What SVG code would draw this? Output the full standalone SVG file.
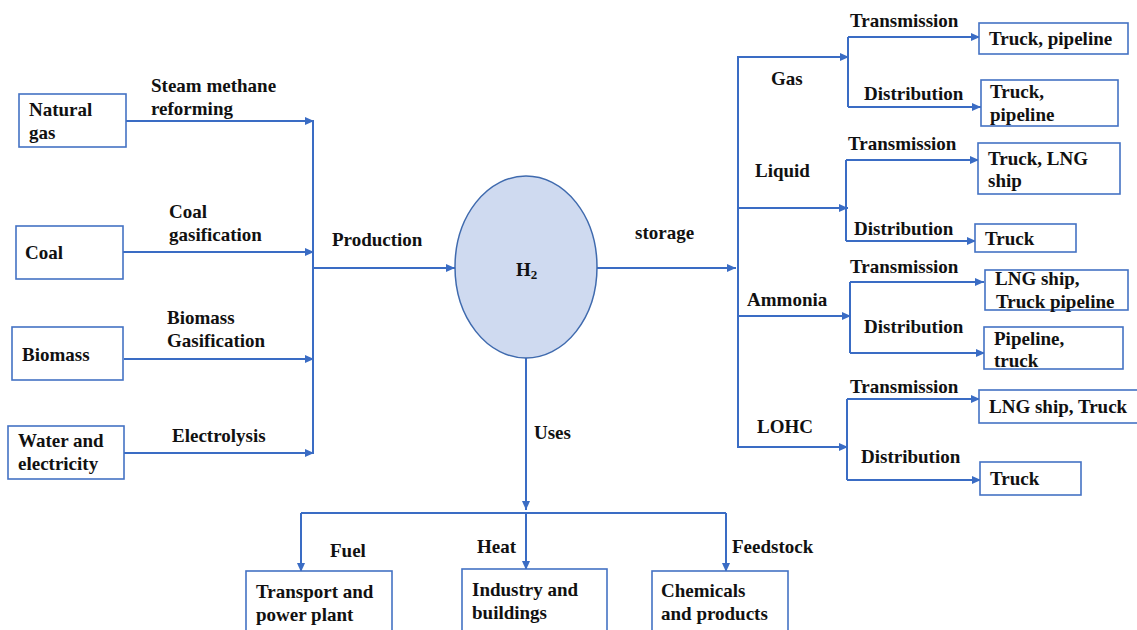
<svg xmlns="http://www.w3.org/2000/svg" width="1137" height="630" viewBox="0 0 1137 630">
<style>
.bx{fill:#fff;stroke:#4472C4;stroke-width:1.6}
.ln{fill:none;stroke:#3A6CC4;stroke-width:2}
.ar{marker-end:url(#ah)}
text{font-family:"Liberation Serif","Times New Roman",serif;font-weight:bold;font-size:19px;fill:#111}
</style>
<defs>
<marker id="ah" markerUnits="userSpaceOnUse" markerWidth="10" markerHeight="8" refX="9" refY="4" orient="auto">
<path d="M0,0 L9,4 L0,8 z" fill="#3A6CC4"/>
</marker>
</defs>
<rect width="1137" height="630" fill="#fff"/>

<g id="connectors">
<!-- production inputs -->
<path class="ln ar" d="M126,121 H314"/>
<path class="ln ar" d="M123,252 H314"/>
<path class="ln ar" d="M124,359 H314"/>
<path class="ln ar" d="M124,453 H314"/>
<path class="ln" d="M313,120 V454"/>
<path class="ln ar" d="M313,268 H455"/>
<!-- storage -->
<path class="ln ar" d="M597,268 H736"/>
<path class="ln" d="M738,56 V448"/>
<path class="ln ar" d="M737,57 H849"/>
<path class="ln" d="M848,37 V107"/>
<path class="ln ar" d="M848,37 H980"/>
<path class="ln ar" d="M848,107 H981"/>
<path class="ln ar" d="M737,208 H848"/>
<path class="ln" d="M846,160 V241"/>
<path class="ln ar" d="M846,160 H979"/>
<path class="ln ar" d="M846,241 H976"/>
<path class="ln ar" d="M737,316 H851"/>
<path class="ln" d="M850,282 V353"/>
<path class="ln ar" d="M850,282 H984"/>
<path class="ln ar" d="M850,353 H985"/>
<path class="ln ar" d="M737,447 H848"/>
<path class="ln" d="M847,399 V480"/>
<path class="ln ar" d="M847,399 H980"/>
<path class="ln ar" d="M847,480 H981"/>
<!-- uses -->
<path class="ln ar" d="M526,358 V510"/>
<path class="ln" d="M301,513 H726"/>
<path class="ln ar" d="M301,513 V572"/>
<path class="ln ar" d="M526,513 V570"/>
<path class="ln ar" d="M726,513 V572"/>
</g>

<g id="labels">
<text x="151" y="92">Steam methane</text>
<text x="151" y="115">reforming</text>
<text x="169" y="218">Coal</text>
<text x="169" y="241">gasification</text>
<text x="167" y="324">Biomass</text>
<text x="167" y="347">Gasification</text>
<text x="172" y="442">Electrolysis</text>
<text x="332" y="246">Production</text>
<text x="635" y="239">storage</text>
<text x="534" y="439">Uses</text>
<text x="771" y="85">Gas</text>
<text x="755" y="177">Liquid</text>
<text x="747" y="306">Ammonia</text>
<text x="757" y="433">LOHC</text>
<text x="850" y="27">Transmission</text>
<text x="864" y="100">Distribution</text>
<text x="848" y="150">Transmission</text>
<text x="854" y="235">Distribution</text>
<text x="850" y="273">Transmission</text>
<text x="864" y="333">Distribution</text>
<text x="850" y="393">Transmission</text>
<text x="861" y="463">Distribution</text>
<text x="330" y="557">Fuel</text>
<text x="477" y="553">Heat</text>
<text x="732" y="553">Feedstock</text>
</g>

<g id="n-natural-gas">
<rect class="bx" x="19" y="94" width="107" height="53"/>
<text x="29" y="116">Natural</text>
<text x="29" y="139">gas</text>
</g>
<g id="n-coal">
<rect class="bx" x="16" y="226" width="107" height="53"/>
<text x="25" y="259">Coal</text>
</g>
<g id="n-biomass">
<rect class="bx" x="12" y="327" width="111" height="53"/>
<text x="22" y="361">Biomass</text>
</g>
<g id="n-water">
<rect class="bx" x="8" y="426" width="116" height="53"/>
<text x="18" y="447">Water and</text>
<text x="18" y="470">electricity</text>
</g>

<g id="n-h2">
<ellipse cx="526" cy="267" rx="71" ry="91" fill="#CFDAF0" stroke="#3F6AAE" stroke-width="1.5"/>
<text x="516" y="276">H<tspan font-size="13" dy="3">2</tspan></text>
</g>

<g id="n-gas-trans">
<rect class="bx" x="979" y="23" width="149" height="31"/>
<text x="989" y="45">Truck, pipeline</text>
</g>
<g id="n-gas-dist">
<rect class="bx" x="981" y="80" width="137" height="46"/>
<text x="990" y="98">Truck,</text>
<text x="990" y="121">pipeline</text>
</g>
<g id="n-liq-trans">
<rect class="bx" x="978" y="143" width="142" height="51"/>
<text x="988" y="165">Truck, LNG</text>
<text x="988" y="187">ship</text>
</g>
<g id="n-liq-dist">
<rect class="bx" x="975" y="224" width="101" height="28"/>
<text x="985" y="245">Truck</text>
</g>
<g id="n-amm-trans">
<rect class="bx" x="985" y="270" width="143" height="40"/>
<text x="995" y="285">LNG ship,</text>
<text x="996" y="308">Truck pipeline</text>
</g>
<g id="n-amm-dist">
<rect class="bx" x="984" y="327" width="139" height="42"/>
<text x="994" y="345">Pipeline,</text>
<text x="994" y="367">truck</text>
</g>
<g id="n-lohc-trans">
<rect class="bx" x="979" y="390" width="162" height="33"/>
<text x="989" y="413">LNG ship, Truck</text>
</g>
<g id="n-lohc-dist">
<rect class="bx" x="980" y="462" width="101" height="33"/>
<text x="990" y="485">Truck</text>
</g>

<g id="n-transport">
<rect class="bx" x="246" y="571" width="146" height="65"/>
<text x="256" y="598">Transport and</text>
<text x="256" y="621">power plant</text>
</g>
<g id="n-industry">
<rect class="bx" x="462" y="569" width="145" height="67"/>
<text x="472" y="596">Industry and</text>
<text x="472" y="619">buildings</text>
</g>
<g id="n-chemicals">
<rect class="bx" x="652" y="571" width="136" height="65"/>
<text x="661" y="597">Chemicals</text>
<text x="661" y="620">and products</text>
</g>
</svg>
